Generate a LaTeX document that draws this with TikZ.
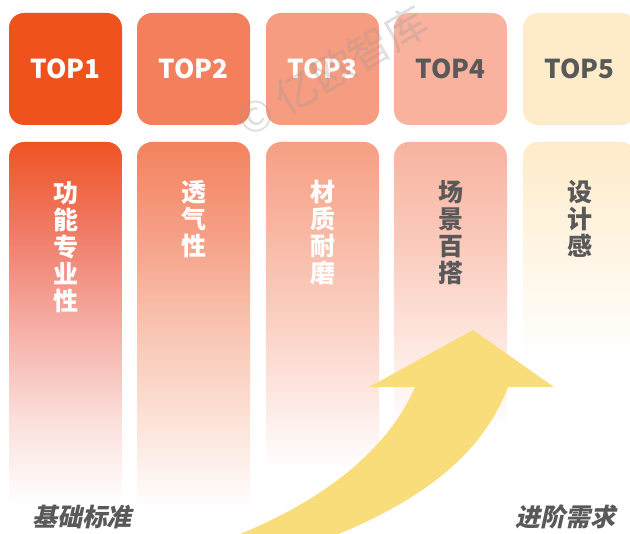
\documentclass[tikz,border=0pt]{standalone}
\usepackage{fontspec}
\newfontfamily\cjk{Noto Sans CJK SC}
\newfontfamily\cjkit{Noto Sans CJK SC}[FakeSlant=0.22]
\definecolor{cA}{HTML}{F0521E}
\definecolor{cB}{HTML}{F37F5D}
\definecolor{cC}{HTML}{F69C80}
\definecolor{cD}{HTML}{F8B29E}
\definecolor{cE}{HTML}{FEEBCA}
\definecolor{txtgray}{HTML}{595959}
\definecolor{arrowyellow}{HTML}{FADD7B}
% stops mapped to 25..75bp (shading box 100bp is scaled so 25..75 covers the path)
\pgfdeclareverticalshading{colA}{100bp}{color(0bp)=(white); color(25bp)=(white); color(36.5bp)=(rgb,255:red,251;green,224;blue,220); color(49bp)=(rgb,255:red,245;green,176;blue,168); color(63bp)=(rgb,255:red,240;green,122;blue,102); color(75bp)=(rgb,255:red,239;green,83;blue,36); color(100bp)=(rgb,255:red,239;green,83;blue,36)}
\pgfdeclareverticalshading{colB}{100bp}{color(0bp)=(white); color(25bp)=(white); color(37bp)=(rgb,255:red,252;green,227;blue,216); color(49.5bp)=(rgb,255:red,249;green,197;blue,178); color(63bp)=(rgb,255:red,245;green,158;blue,131); color(75bp)=(rgb,255:red,243;green,131;blue,95); color(100bp)=(rgb,255:red,243;green,131;blue,95)}
\pgfdeclareverticalshading{colC}{100bp}{color(0bp)=(white); color(25bp)=(white); color(46.5bp)=(rgb,255:red,251;green,211;blue,198); color(61.5bp)=(rgb,255:red,248;green,183;blue,162); color(75bp)=(rgb,255:red,246;green,159;blue,131); color(100bp)=(rgb,255:red,246;green,159;blue,131)}
\pgfdeclareverticalshading{colD}{100bp}{color(0bp)=(white); color(25bp)=(white); color(42.5bp)=(rgb,255:red,253;green,227;blue,218); color(59.5bp)=(rgb,255:red,250;green,199;blue,184); color(75bp)=(rgb,255:red,248;green,179;blue,160); color(100bp)=(rgb,255:red,248;green,179;blue,160)}
\pgfdeclareverticalshading{colE}{100bp}{color(0bp)=(white); color(25bp)=(white); color(55bp)=(rgb,255:red,255;green,243;blue,223); color(75bp)=(rgb,255:red,254;green,235;blue,201); color(100bp)=(rgb,255:red,254;green,235;blue,201)}
\tikzset{
  topbox/.style={rounded corners=15pt},
  toplabel/.style={font=\cjk\bfseries\fontsize{26}{26}\selectfont, inner sep=0pt},
  vlabel/.style={font=\cjk\bfseries\fontsize{25}{27}\selectfont, align=center, inner sep=0pt, anchor=north},
  sidelabel/.style={font=\cjkit\bfseries\fontsize{25}{25}\selectfont, text=txtgray, inner sep=0pt}
}
\begin{document}
\begin{tikzpicture}[x=1pt,y=-1pt]
\useasboundingbox (0,0) rectangle (630,534);
\fill[white] (0,0) rectangle (630,534);
% top boxes
\fill[cA, topbox] (9,13) rectangle (122,125);
\fill[cB, topbox] (137,13) rectangle (250,125);
\fill[cC, topbox] (266,13) rectangle (379,125);
\fill[cD, topbox] (394,13) rectangle (507,125);
\fill[cE, topbox] (523,13) rectangle (636,125);
\node[toplabel, text=white] (t1) at (65.5,69) {TOP1};
\node[toplabel, text=white] (t2) at (193.5,69) {TOP2};
\node[toplabel, text=white] (t3) at (322.5,69) {TOP3};
\node[toplabel, text=txtgray] (t4) at (450.5,69) {TOP4};
\node[toplabel, text=txtgray] (t5) at (579.5,69) {TOP5};
% columns
\shade[shading=colA] (9,505) {[rounded corners=15pt] -- (9,142) -- (122,142)} -- (122,505) -- cycle;
\shade[shading=colB] (137,510) {[rounded corners=15pt] -- (137,142) -- (250,142)} -- (250,510) -- cycle;
\shade[shading=colC] (266,470) {[rounded corners=15pt] -- (266,142) -- (379,142)} -- (379,470) -- cycle;
\shade[shading=colD] (394,430) {[rounded corners=15pt] -- (394,142) -- (507,142)} -- (507,430) -- cycle;
\shade[shading=colE] (523,360) {[rounded corners=15pt] -- (523,142) -- (636,142)} -- (636,360) -- cycle;
\node[vlabel, text=white] (v1) at (65.5,181) {功\\能\\专\\业\\性};
\node[vlabel, text=white] (v2) at (193.5,180) {透\\气\\性};
\node[vlabel, text=white] (v3) at (322.5,180) {材\\质\\耐\\磨};
\node[vlabel, text=txtgray] (v4) at (450.5,180) {场\\景\\百\\搭};
\node[vlabel, text=txtgray] (v5) at (579.5,180) {设\\计\\感};
% arrow
\fill[arrowyellow] (225,540) .. controls (330,500) and (390,445) .. (415,387)
  -- (369,387) -- (473,330) -- (554,387) -- (508,387)
  .. controls (482,455) and (420,505) .. (310,545) -- cycle;
% side labels
\node[sidelabel] (base) at (82,517) {基础标准};
\node[sidelabel] (adv) at (565,517) {进阶需求};
% watermark
\node[font=\cjk\fontsize{42}{42}\selectfont, text=black!40, opacity=0.3, rotate=30.5, inner sep=0pt] (wm) at (332,71) {© 亿欧智库};
\end{tikzpicture}
\end{document}
